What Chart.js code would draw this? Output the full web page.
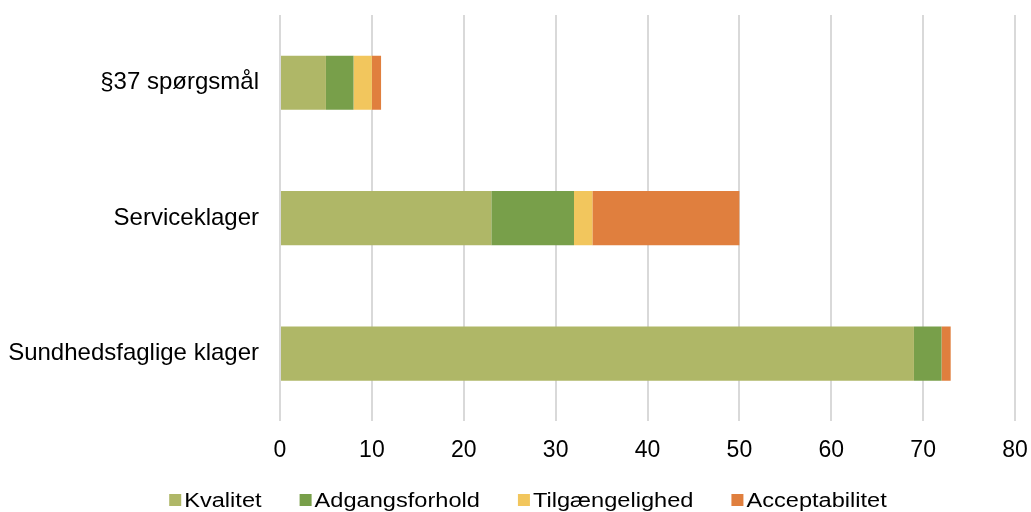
<!DOCTYPE html>
<html>
<head>
<meta charset="utf-8">
<script src="https://cdn.jsdelivr.net/npm/chart.js@4"></script>
<style>
html,body{margin:0;padding:0;background:#fff;}
#wrap{width:1031px;height:512px;position:relative;}
</style>
</head>
<body>
<div id="wrap"><canvas id="c" width="1031" height="512"></canvas></div>
<script>
const categories = ["§37 spørgsmål", "Serviceklager", "Sundhedsfaglige klager"];
const seriesNames = ["Kvalitet", "Adgangsforhold", "Tilgængelighed", "Acceptabilitet"];
const kvalitet = [5, 23, 69];
const adgangsforhold = [3, 9, 3];
const tilgaengelighed = [2, 2, 0];
const acceptabilitet = [1, 16, 1];
const xTicks = [0, 10, 20, 30, 40, 50, 60, 70, 80];
const colors = ["#AFB767", "#789F4A", "#F2C65D", "#E07F3E"];

const FONT = "'Liberation Sans', Arial, sans-serif";
const seriesValues = [kvalitet, adgangsforhold, tilgaengelighed, acceptabilitet];

const customLegend = {
  id: 'customLegend',
  afterDraw(chart) {
    const ctx = chart.ctx;
    ctx.save();
    ctx.font = "20px " + FONT;
    ctx.textBaseline = 'alphabetic';
    const sx = 1.18;
    const box = 12, gapBoxText = 3, gapItems = 38;
    const items = chart.data.datasets.map(d => ({text: d.label, color: d.backgroundColor, w: ctx.measureText(d.label).width * sx}));
    let total = 0;
    items.forEach((it, i) => { total += box + gapBoxText + it.w + (i < items.length - 1 ? gapItems : 0); });
    let x = 528 - total / 2;
    const baseline = 507;
    items.forEach(it => {
      ctx.fillStyle = it.color;
      ctx.fillRect(x, 494, box, box);
      x += box + gapBoxText;
      ctx.save();
      ctx.translate(x, baseline);
      ctx.scale(sx, 1);
      ctx.fillStyle = '#000';
      ctx.fillText(it.text, 0, 0);
      ctx.restore();
      x += it.w + gapItems;
    });
    ctx.restore();
  }
};

new Chart(document.getElementById('c'), {
  type: 'bar',
  data: {
    labels: categories,
    datasets: seriesNames.map((n, i) => ({
      label: n,
      data: seriesValues[i],
      backgroundColor: colors[i],
      borderWidth: 0,
      barPercentage: 0.4,
      categoryPercentage: 1.0
    }))
  },
  options: {
    indexAxis: 'y',
    responsive: false,
    animation: false,
    layout: { padding: { top: 15, right: 16, bottom: 33, left: 0 } },
    plugins: { legend: { display: false }, tooltip: { enabled: false } },
    scales: {
      x: {
        stacked: true,
        min: 0, max: 80,
        afterBuildTicks(scale) { scale.ticks = xTicks.map(v => ({value: v})); },
        afterFit(scale) { scale.paddingLeft = 0; scale.paddingRight = 0; },
        grid: { color: '#d9d9d9', lineWidth: 2, drawTicks: false },
        border: { display: false },
        ticks: { padding: 15, color: '#000', font: { family: FONT, size: 23 } }
      },
      y: {
        stacked: true,
        afterFit(scale) { scale.width = 280; scale.paddingTop = 0; scale.paddingBottom = 0; },
        grid: { display: false, drawTicks: false },
        border: { display: false },
        ticks: { padding: 21, color: '#000', font: { family: FONT, size: 24 } }
      }
    }
  },
  plugins: [customLegend]
});
</script>
</body>
</html>
